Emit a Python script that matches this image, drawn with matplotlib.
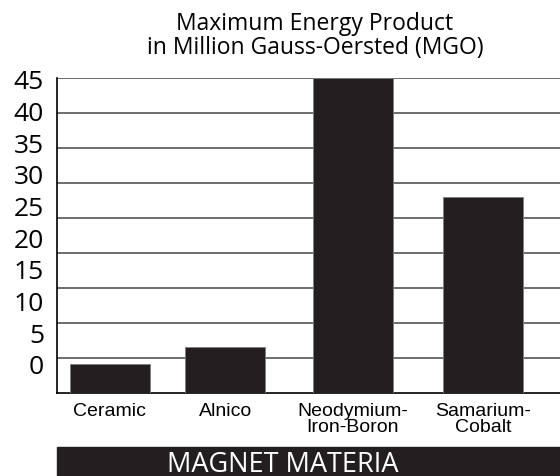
import numpy as np
import matplotlib
matplotlib.use("Agg")
import matplotlib.pyplot as plt
from matplotlib.patches import Rectangle

# data
materials = ["Ceramic", "Alnico", "Neodymium-\nIron-Boron", "Samarium-\nCobalt"]
mgo_values = [4.2, 6.6, 45, 28.1]
y_labels = ["45", "40", "35", "30", "25", "20", "15", "10", "5", "0"]
grid_levels = [5, 10, 15, 20, 25, 30, 35, 40, 45]
title_text = "Maximum Energy Product\nin Million Gauss-Oersted (MGO)"
band_text = "MAGNET MATERIA"

x_pos = [0, 0.924, 1.944, 2.984]
bar_color = "#231f20"

fig = plt.figure(figsize=(5.6, 4.76), dpi=100)
ax = fig.add_axes([0.101, 0.1737, 0.899, 0.6618])

ax.set_ylim(0, 45)
ax.set_xlim(-0.426, 3.6)

# gridlines on minor ticks, the labels sit a bit tighter than the grid
ax.set_yticks(grid_levels, minor=True)
ax.grid(axis="y", which="minor", color="#555555", linewidth=1.2, zorder=0)
ax.set_axisbelow(True)
label_pos = np.linspace(44.8, 4.05, len(y_labels))
ax.set_yticks(label_pos)
ax.set_yticklabels(y_labels, family="Open Sans", fontsize=19)

ax.bar(x_pos, mgo_values, width=0.64, color=bar_color,
       edgecolor="#808080", linewidth=0.6, zorder=3)

ax.set_xticks(x_pos)
ax.set_xticklabels(materials, fontsize=14, family="Liberation Sans",
                   linespacing=0.92)
ax.tick_params(axis="x", length=0, pad=7)
ax.tick_params(axis="y", which="both", length=0, pad=9)

for s in ["top", "right"]:
    ax.spines[s].set_visible(False)
ax.spines["left"].set_color("black")
ax.spines["bottom"].set_color("black")
ax.spines["left"].set_linewidth(1.2)
ax.spines["bottom"].set_linewidth(1.2)

fig.text(0.5625, (476 - 36) / 476, title_text, ha="center", va="center",
         fontsize=16.5, family="Open Sans", linespacing=1.05)

band = Rectangle((0.101, 0), 0.899, (476 - 446.7) / 476, transform=fig.transFigure,
                 color=bar_color, zorder=0)
fig.patches.append(band)
fig.text(0.5054, 4 / 476, band_text, ha="center", va="baseline", fontsize=19.5,
         family="Open Sans", color="white")

fig.savefig("out.png", dpi=100)
